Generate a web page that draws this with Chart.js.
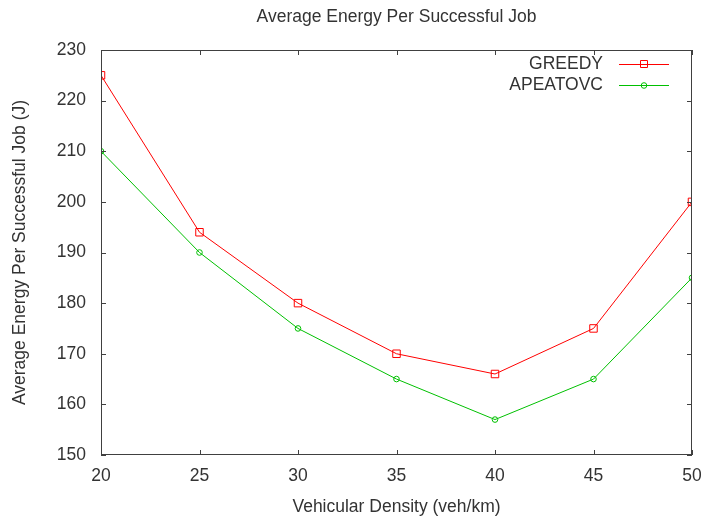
<!DOCTYPE html>
<html><head><meta charset="utf-8">
<script src="https://cdn.jsdelivr.net/npm/chart.js@4.4.0/dist/chart.umd.min.js"></script>
<style>html,body{margin:0;padding:0;background:#fff}#wrap{width:701px;height:519px}</style>
</head><body><div id="wrap"><canvas id="c" width="701" height="519"></canvas></div>
<script>
const densities = [20, 25, 30, 35, 40, 45, 50];
const greedy = [225, 194, 180, 170, 166, 175, 200];
const apeatovc = [210, 190, 175, 165, 157, 165, 185];
const seriesNames = ['GREEDY', 'APEATOVC'];
const titleText = 'Average Energy Per Successful Job';
const xTitle = 'Vehicular Density (veh/km)';
const yTitle = 'Average Energy Per Successful Job (J)';
const FONT = '"Liberation Sans", Arial, sans-serif';
const FS = 17.5;
const TXT = '#333333';
const AX = '#404040';

const frame = {
  id: 'frame',
  afterDraw(chart) {
    const {ctx, chartArea: a, scales: {x, y}} = chart;
    ctx.save();
    ctx.strokeStyle = AX; ctx.lineWidth = 1;
    ctx.strokeRect(Math.round(a.left)+0.5, Math.round(a.top)+0.5, Math.round(a.right-a.left)-1, Math.round(a.bottom-a.top)-1);
    const L = 5;
    ctx.beginPath();
    y.ticks.forEach(t => {
      const py = Math.round(y.getPixelForValue(t.value)) + 0.5;
      ctx.moveTo(a.left, py); ctx.lineTo(a.left + L, py);
      ctx.moveTo(a.right, py); ctx.lineTo(a.right - L, py);
    });
    x.ticks.forEach(t => {
      const px = Math.round(x.getPixelForValue(t.value)) + 0.5;
      ctx.moveTo(px, a.bottom); ctx.lineTo(px, a.bottom - L);
      ctx.moveTo(px, a.top); ctx.lineTo(px, a.top + L);
    });
    ctx.stroke();
    // title
    ctx.fillStyle = TXT;
    ctx.font = FS + 'px ' + FONT;
    ctx.textAlign = 'center'; ctx.textBaseline = 'middle';
    ctx.fillText(titleText, (a.left + a.right) / 2, 17.5);
    // legend
    const ds = chart.data.datasets;
    const rows = [64, 85];
    ds.forEach((d, i) => {
      const yy = rows[i] + 0.5;
      ctx.fillStyle = TXT;
      ctx.textAlign = 'right';
      ctx.fillText(d.label, 603, rows[i]);
      ctx.strokeStyle = d.borderColor; ctx.lineWidth = 1;
      ctx.beginPath(); ctx.moveTo(619, yy); ctx.lineTo(669, yy); ctx.stroke();
      ctx.beginPath();
      if (i === 0) { ctx.rect(640.5, yy - 4, 7, 7); }
      else { ctx.arc(644, yy, 2.8, 0, Math.PI * 2); }
      ctx.stroke();
    });
    ctx.restore();
  }
};

new Chart(document.getElementById('c'), {
  type: 'line',
  data: {
    datasets: [
      { label: seriesNames[0], data: densities.map((v, i) => ({x: v, y: greedy[i]})),
        borderColor: '#ff0000', backgroundColor: 'rgba(0,0,0,0)', borderWidth: 1,
        pointStyle: 'rect', pointRadius: 5.3, pointBorderWidth: 1, pointBorderColor: '#ff0000', pointBackgroundColor: 'rgba(0,0,0,0)', tension: 0 },
      { label: seriesNames[1], data: densities.map((v, i) => ({x: v, y: apeatovc[i]})),
        borderColor: '#00c000', backgroundColor: 'rgba(0,0,0,0)', borderWidth: 1,
        pointStyle: 'circle', pointRadius: 2.8, pointBorderWidth: 1, pointBorderColor: '#00c000', pointBackgroundColor: 'rgba(0,0,0,0)', tension: 0 }
    ]
  },
  options: {
    responsive: false, animation: false, devicePixelRatio: 1,
    layout: { padding: { top: 50, right: 0, left: 0, bottom: 0 } },
    plugins: { legend: { display: false }, tooltip: { enabled: false }, title: { display: false } },
    scales: {
      x: { type: 'linear', min: 20, max: 50, border: { display: false },
        grid: { display: false, drawTicks: false },
        ticks: { stepSize: 5, color: TXT, font: { family: FONT, size: FS }, padding: 11, maxRotation: 0 },
        title: { display: true, text: xTitle, color: TXT, font: { family: FONT, size: FS }, padding: { top: 0, bottom: 1 } },
        afterFit(s) { s.height = 64; s.paddingRight = 9; s.paddingLeft = 0; } },
      y: { type: 'linear', min: 150, max: 230, border: { display: false },
        grid: { display: false, drawTicks: false },
        ticks: { stepSize: 10, color: TXT, font: { family: FONT, size: FS }, padding: 15 },
        title: { display: true, text: yTitle, color: TXT, font: { family: FONT, size: FS }, padding: { top: 10, bottom: 0 } },
        afterFit(s) { s.width = 101; s.paddingTop = 0; s.paddingBottom = 0; } }
    }
  },
  plugins: [frame]
});
</script></body></html>
